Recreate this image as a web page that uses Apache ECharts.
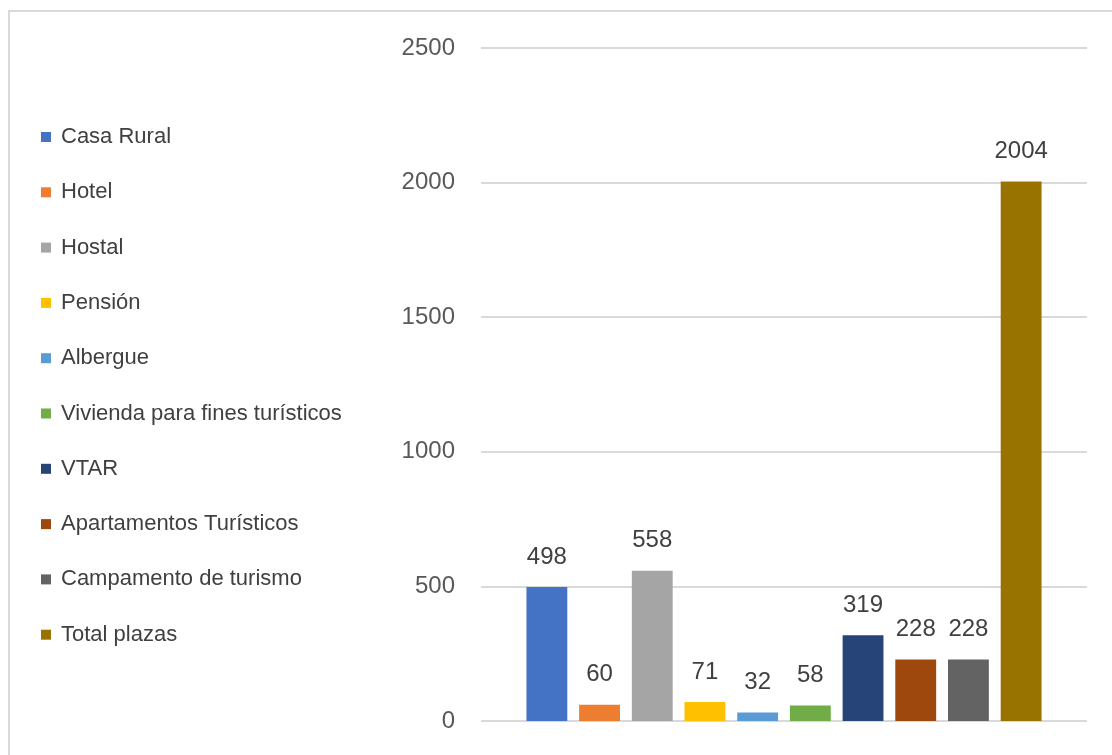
<!DOCTYPE html>
<html><head><meta charset="utf-8">
<script src="https://cdn.jsdelivr.net/npm/echarts@6/dist/echarts.min.js"></script>
<style>
html,body{margin:0;padding:0;background:#fff;}
#frame{position:absolute;left:8px;top:10px;width:1120px;height:760px;border:2px solid #D9D9D9;box-sizing:border-box;}
#chart{position:absolute;left:0;top:0;width:1112px;height:755px;}
</style></head>
<body>
<div id="frame"></div>
<div id="chart"></div>
<script>
const seriesNames = ["Casa Rural","Hotel","Hostal","Pensión","Albergue","Vivienda para fines turísticos","VTAR","Apartamentos Turísticos","Campamento de turismo","Total plazas"];
const seriesValues = [498,60,558,71,32,58,319,228,228,2004];
const seriesColors = ["#4472C4","#ED7D31","#A5A5A5","#FFC000","#5B9BD5","#70AD47","#264478","#9E480E","#636363","#997300"];
const categories = ["Plazas"];
const yTicks = {min:0,max:2500,interval:500};

const font = "Liberation Sans";
const chart = echarts.init(document.getElementById('chart'), null, {renderer:'canvas'});
const series = seriesNames.map((n,i)=>({
  name:n, type:'bar', data:[seriesValues[i]],
  itemStyle:{color:seriesColors[i]},
  barGap:'29%', barCategoryGap:'15%',
  label:{show:true, position:'top', distance:18, color:'#404040', fontSize:24, fontFamily:font},
  animation:false
}));
chart.setOption({
  animation:false,
  legend:{
    orient:'vertical', left:36, top:121,
    itemWidth:10, itemHeight:10, itemGap:33.3,
    icon:'rect',
    textStyle:{fontFamily:font, fontSize:22, color:'#404040', lineHeight:20, padding:[0,0,0,5]},
    data:seriesNames
  },
  grid:{left:481, right:25, top:48, bottom:34, containLabel:false},
  xAxis:{type:'category', data:categories, axisLine:{show:false}, axisTick:{show:false}, axisLabel:{show:false}},
  yAxis:{type:'value', min:yTicks.min, max:yTicks.max, interval:yTicks.interval,
    axisLine:{show:false}, axisTick:{show:false},
    axisLabel:{fontFamily:font, fontSize:24, color:'#595959', margin:26, formatter:v=>String(v)},
    splitLine:{lineStyle:{color:'#D9D9D9', width:2}}
  },
  series:series
});
</script>
</body></html>
